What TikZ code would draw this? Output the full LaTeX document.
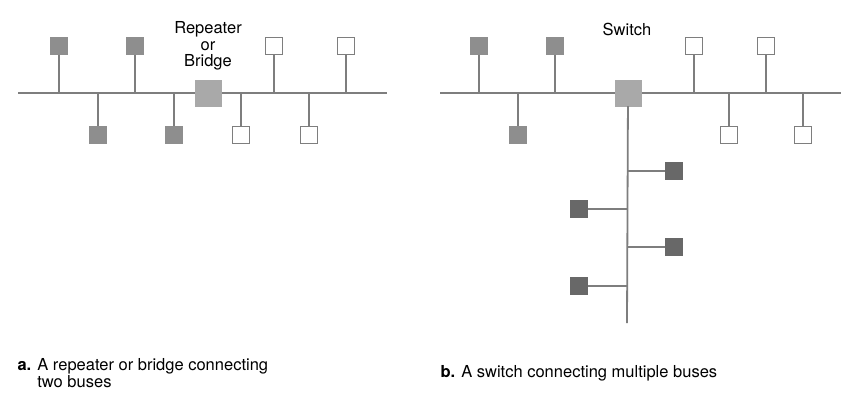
\documentclass[tikz,border=0pt]{standalone}
\usepackage{fontspec}
\setmainfont{TeX Gyre Heros}
\usetikzlibrary{positioning}
\definecolor{linegray}{HTML}{7E7E7E}
\definecolor{hostgray}{HTML}{8E8E8E}
\definecolor{darkhost}{HTML}{686868}
\definecolor{relaygray}{HTML}{A9A9A9}
\tikzset{
  wire/.style={draw=linegray, line width=1.8pt},
  host/.style={draw=hostgray, fill=hostgray, minimum size=17pt, inner sep=0pt},
  darkbox/.style={draw=darkhost, fill=darkhost, minimum size=17pt, inner sep=0pt},
  openbox/.style={draw=linegray, fill=white, line width=0.9pt, minimum size=17pt, inner sep=0pt},
  relay/.style={draw=relaygray, fill=relaygray, minimum size=26pt, inner sep=0pt},
  tag/.style={font=\fontsize{16.5}{16.5}\selectfont, align=center},
  caption/.style={font=\fontsize{16.5}{15.5}\selectfont, align=left, anchor=north west}
}
\begin{document}
\begin{tikzpicture}[x=1pt, y=-1pt]
			\useasboundingbox[fill=white] (0,0) rectangle (856,413);
			% a: repeater or bridge
			\coordinate (aw) at (18,93);
			\coordinate (ae) at (387,93);
			\draw[wire] (aw) -- (ae);
			\node[relay] (bridge) at (208,93) {};
			\node[tag] (bridgelbl) at (208,46) {Repeater\\or\\Bridge};
			\node[host] (a1) at (59,46) {};
			\node[host] (a2) at (135,46) {};
			\node[openbox] (a3) at (274,46) {};
			\node[openbox] (a4) at (346,46) {};
			\node[host] (a5) at (98,135) {};
			\node[host] (a6) at (174,135) {};
			\node[openbox] (a7) at (241,135) {};
			\node[openbox] (a8) at (309,135) {};
			\foreach \h in {a1,a2,a3,a4,a5,a6,a7,a8}
				\draw[wire] (\h) -- (\h |- aw);
			\node[caption] (capa) at (14,355) {\textbf{a.} A repeater or bridge connecting\\\phantom{\textbf{a.} }two buses};
			% b: switch
			\coordinate (bw) at (440,93);
			\coordinate (be) at (841,93);
			\coordinate (bs) at (627,323);
			\draw[wire] (bw) -- (be);
			\node[relay] (switch) at (628,93) {};
			\node[tag] (switchlbl) at (627,29) {Switch};
			\draw[wire] (switch) -- (bs);
			\node[host] (b1) at (479,46) {};
			\node[host] (b2) at (555,46) {};
			\node[openbox] (b3) at (694,46) {};
			\node[openbox] (b4) at (766,46) {};
			\node[host] (b5) at (518,135) {};
			\node[openbox] (b6) at (729,135) {};
			\node[openbox] (b7) at (803,135) {};
			\foreach \h in {b1,b2,b3,b4,b5,b6,b7}
				\draw[wire] (\h) -- (\h |- bw);
			\node[darkbox] (c1) at (674,171) {};
			\node[darkbox] (c2) at (579,209) {};
			\node[darkbox] (c3) at (674,247) {};
			\node[darkbox] (c4) at (579,286) {};
			\foreach \h in {c1,c2,c3,c4}
				\draw[wire] (\h) -- (\h -| bs);
			\node[caption] (capb) at (437,362) {\textbf{b.} A switch connecting multiple buses};
		\end{tikzpicture}
\end{document}
